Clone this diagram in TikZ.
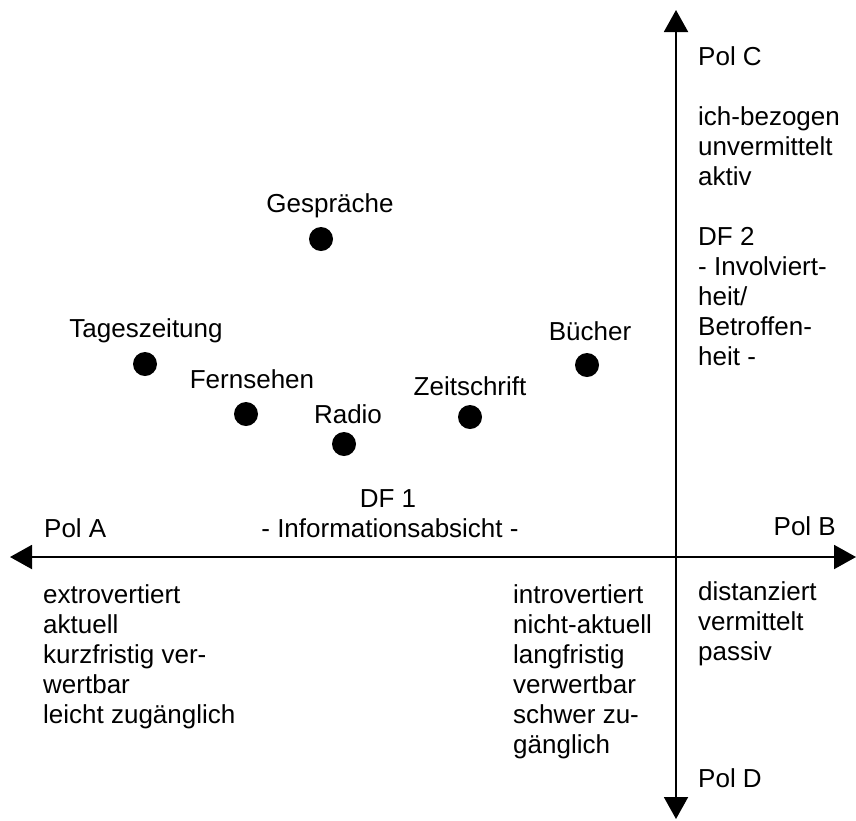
\documentclass[tikz,border=0pt]{standalone}
\usepackage{fontspec}
\setmainfont{Liberation Sans}
\usetikzlibrary{arrows.meta}
\begin{document}
\begin{tikzpicture}[x=1pt,y=-1pt,
  lbl/.style={inner sep=0pt, font=\fontsize{26}{30}\selectfont},
  blk/.style={lbl, align=left, anchor=base west},
  clbl/.style={lbl, anchor=base},
  dot/.style={circle, fill=black, minimum size=24pt, inner sep=0pt},
  axis/.style={line width=2pt, -{Triangle[length=22pt,width=24pt]}}]
\useasboundingbox (0,0) rectangle (856,820);
% axes
\coordinate (O) at (676,557);
\coordinate (L) at (10,557);
\coordinate (R) at (856,557);
\coordinate (T) at (676,10);
\coordinate (B) at (676,819);
\draw[axis] (O) -- (L);
\draw[axis] (O) -- (R);
\draw[axis] (O) -- (T);
\draw[axis] (O) -- (B);
% dots
\node[dot] (dg) at (321,239) {};
\node[dot] (dt) at (145,364) {};
\node[dot] (df) at (246,414) {};
\node[dot] (dr) at (344,444) {};
\node[dot] (dz) at (470,417) {};
\node[dot] (db) at (587,365) {};
% dot labels
\node[clbl] (lg) at (330,212) {Gespräche};
\node[clbl] (lt) at (146,337) {Tageszeitung};
\node[clbl] (lf) at (252,388) {Fernsehen};
\node[clbl] (lr) at (348,423) {Radio};
\node[clbl] (lz) at (470,395) {Zeitschrift};
\node[clbl] (lb) at (590,340) {Bücher};
% DF 1
\node[clbl] (df1) at (388,507) {DF 1};
\node[clbl] (info) at (390,537) {- Informationsabsicht -};
% poles
\node[blk] (pa) at (44,537) {Pol A};
\node[lbl, anchor=base east] (pb) at (836,535) {Pol B};
\node[blk] (pd) at (698,787) {Pol D};
% text blocks (anchored at baseline of last line)
\node[blk] (ta) at (43,723) {extrovertiert\\aktuell\\kurzfristig ver-\\wertbar\\leicht zugänglich};
\node[blk] (tb) at (513,753) {introvertiert\\nicht-aktuell\\langfristig\\verwertbar\\schwer zu-\\gänglich};
\node[blk] (tc) at (698,660) {distanziert\\vermittelt\\passiv};
\node[blk] (tp) at (698,365) {Pol C\\[30pt]ich-bezogen\\unvermittelt\\aktiv\\[30pt]DF 2\\- Involviert-\\heit/\\Betroffen-\\heit -};
\end{tikzpicture}
\end{document}
